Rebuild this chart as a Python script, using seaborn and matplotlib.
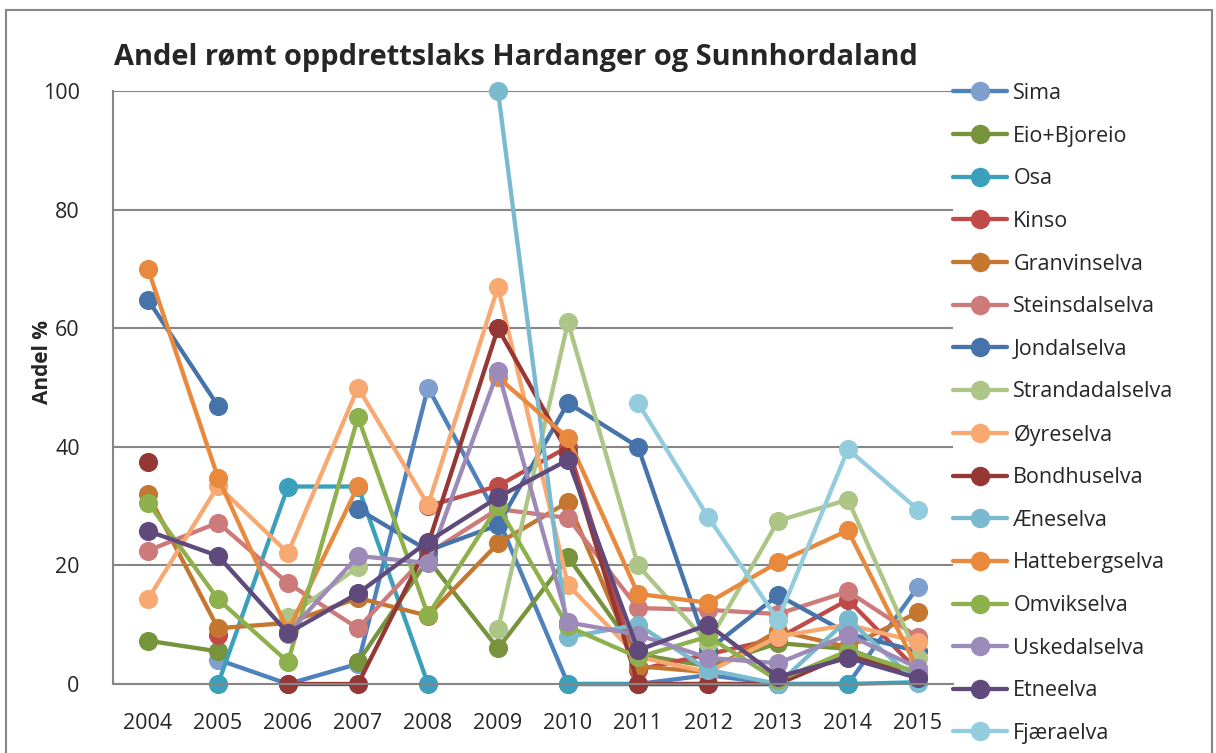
import numpy as np
import pandas as pd
import matplotlib
matplotlib.use("Agg")
import matplotlib.pyplot as plt
import seaborn as sns
from matplotlib.patches import Rectangle
from matplotlib.lines import Line2D

nan = np.nan
years = [2004, 2005, 2006, 2007, 2008, 2009, 2010, 2011, 2012, 2013, 2014, 2015]

# values (andel %), nan = no data
sima = [nan, 4.1, 0, 3.4, 50, 28, 0, 0, 1.5, 0, 0, 16.4]
eio = [7.3, 5.5, nan, 3.7, 21, 6, 21.4, 5, 3, 6.9, 5.9, 1.5]
osa = [nan, 0, 33.3, 33.3, 0, nan, 0, 0, 0, 0, 0, 0.3]
kinso = [nan, 8.3, nan, nan, 30, 33.4, 40, 2.4, 5, 7.7, 14.2, 2.2]
granvin = [32, 9.4, 10.3, 14.5, 11.5, 23.7, 30.7, 3, 2, 9, 6.2, 12.1]
steinsdal = [22.5, 27.2, 17, 9.4, 22, 29.5, 28, 12.8, 12.5, 11.8, 15.6, 7.9]
jondal = [64.8, 46.9, nan, 29.5, 22.5, 26.8, 47.4, 40, 5.7, 15, 8.5, 5.5]
strandadal = [nan, nan, 11.3, 19.7, nan, 9.2, 61, 20, 6.9, 27.5, 31.1, 4.4]
oyre = [14.3, 33.4, 22.1, 50, 30.2, 66.9, 16.7, 4.6, 2, 8, 10, 7.1]
bondhus = [37.5, nan, 0, 0, 23.5, 60, 39, 0, 0, 0, 5, 1]
aene = [nan, nan, nan, nan, nan, 100, 7.9, 10, 2.4, 0, 10.9, 0.2]
hatteberg = [70, 34.8, 8.9, 33.4, nan, 51.7, 41.5, 15.2, 13.7, 20.5, 25.9, 2.4]
omvik = [30.6, 14.3, 3.7, 45, 11.6, 30, 9.7, 4.5, 8, 0.6, 5.6, 2]
uskedal = [nan, nan, 8.5, 21.6, 20.4, 52.8, 10.4, 8.3, 4.4, 3.5, 8.3, 2.7]
etne = [25.8, 21.6, 8.6, 15.3, 24, 31.5, 37.8, 5.7, 10, 1.2, 4.4, 1]
fjaera = [nan, nan, nan, nan, nan, nan, nan, 47.4, 28.2, 10.8, 39.6, 29.4]

names = ["Sima", "Eio+Bjoreio", "Osa", "Kinso", "Granvinselva", "Steinsdalselva",
         "Jondalselva", "Strandadalselva", "Øyreselva", "Bondhuselva", "Æneselva",
         "Hattebergselva", "Omvikselva", "Uskedalselva", "Etneelva", "Fjæraelva"]
series = [sima, eio, osa, kinso, granvin, steinsdal, jondal, strandadal, oyre,
          bondhus, aene, hatteberg, omvik, uskedal, etne, fjaera]

line_colors = ["#4F81BD", "#77933C", "#3CA0BC", "#BE4B48", "#C5762F", "#CD7B7A",
               "#4674AA", "#ADC586", "#F8A972", "#953735", "#7ABACF", "#E8893D",
               "#8EB04D", "#9C8AB8", "#604A7B", "#93CDDD"]
marker_colors = ["#7F9FCF"] + line_colors[1:]

# long table, with a segment id so gaps are not bridged
rows = []
for name, vals in zip(names, series):
    seg = 0
    for i, v in enumerate(vals):
        if np.isnan(v):
            seg += 1
            continue
        rows.append({"serie": name, "pos": i, "andel": v, "seg": seg})
df = pd.DataFrame(rows)

sns.set_style("white")
plt.rcParams["font.family"] = ["Open Sans", "DejaVu Sans"]

W, H = 1216, 753
fig = plt.figure(figsize=(W / 100, H / 100), dpi=100)
ax = fig.add_axes([113 / W, 1 - 684 / H, 840 / W, 593 / H])

handles = []
for name, lc, mc in zip(names, line_colors, marker_colors):
    sub = df[df["serie"] == name]
    sns.lineplot(data=sub, x="pos", y="andel", units="seg", estimator=None,
                 color=lc, lw=3.1, marker="o", markersize=13,
                 markerfacecolor=mc, markeredgecolor=mc,
                 ax=ax, clip_on=False, legend=False)
    handles.append(Line2D([], [], color=lc, lw=3.1, marker="o", markersize=13,
                          markerfacecolor=mc, markeredgecolor=mc))

ax.set_xlim(-0.5, 11.5)
ax.set_ylim(0, 100)
ax.set_yticks([0, 20, 40, 60, 80, 100])
ax.set_xticks(range(len(years)))
ax.set_xticklabels([str(y) for y in years])
ax.set_xticks(np.arange(-0.5, 12, 1), minor=True)
ax.tick_params(axis="x", which="major", length=0, pad=21, labelsize=15.5)
ax.tick_params(axis="x", which="minor", length=8, width=1.5, color="#868686", direction="out")
ax.tick_params(axis="y", length=8, width=1.5, color="#868686", direction="out", pad=16, labelsize=15.5)
ax.yaxis.grid(True, color="#868686", lw=1.5)
ax.set_axisbelow(True)
for s in ["top", "right"]:
    ax.spines[s].set_visible(False)
for s in ["left", "bottom"]:
    ax.spines[s].set_color("#868686")
    ax.spines[s].set_linewidth(1.5)
ax.set_xlabel("")
ax.set_ylabel("")

fig.text(43 / W, 1 - 362 / H, "Andel %", rotation=90, fontsize=15, fontweight="bold",
         ha="center", va="center")
fig.text(516 / W, 1 - 58 / H, "Andel rømt oppdrettslaks Hardanger og Sunnhordaland",
         fontsize=20.9, fontweight="bold", ha="center", va="center")

ax.legend(handles, names, loc="upper left", bbox_to_anchor=(953 / W, 1 - 83 / H),
          bbox_transform=fig.transFigure, frameon=False, fontsize=15.5,
          handlelength=2.5, handletextpad=0.3, labelspacing=1.005, borderaxespad=0,
          borderpad=0)

fig.patches.append(Rectangle((6 / W, -0.02), 1206 / W, 1 - 10 / H + 0.02,
                             transform=fig.transFigure, fill=False,
                             edgecolor="#868686", lw=1.5))

fig.savefig("out.png", dpi=100)
